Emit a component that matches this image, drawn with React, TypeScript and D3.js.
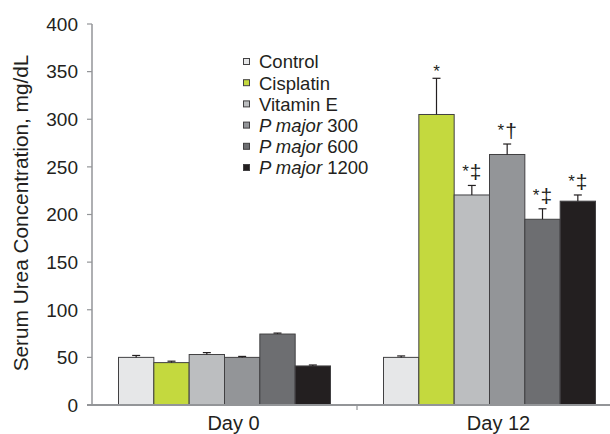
import React from "react";
import * as d3 from "d3";

const groups = ["Day 0", "Day 12"];
const series = ["Control", "Cisplatin", "Vitamin E", "P major 300", "P major 600", "P major 1200"];
const colors = ["#e6e7e8", "#c4d93e", "#bcbec0", "#939598", "#6d6e71", "#231f20"];
const day0Values = [50, 44.5, 53, 50, 74.5, 41];
const day0Errors = [2, 1.5, 2, 1, 1, 1];
const day12Values = [50, 305, 220.5, 263, 195, 214];
const day12Errors = [1.5, 38, 10, 11, 11, 6.5];
const day12Stars = ["", "*", "*", "*", "*", "*"];
const day12Daggers = ["", "", "‡", "†", "‡", "‡"];
const yTicks = [0, 50, 100, 150, 200, 250, 300, 350, 400];

const W = 610;
const H = 434;
const FONT = "'Liberation Sans', Arial, Helvetica, sans-serif";

export default function App() {
  const left = 92;
  const top = 24;
  const bottom = 405;
  const y = d3.scaleLinear().domain([0, 400]).range([bottom, top]);
  const x0 = d3.scaleBand().domain(groups).range([left, left + 530]).padding(0);
  const x1 = d3
    .scaleBand()
    .domain(series)
    .range([0, x0.bandwidth()])
    .paddingInner(0)
    .paddingOuter(0.75);

  const empty = ["", "", "", "", "", ""];
  const data = [
    { g: groups[0], vals: day0Values, errs: day0Errors, stars: empty, daggers: empty },
    { g: groups[1], vals: day12Values, errs: day12Errors, stars: day12Stars, daggers: day12Daggers },
  ];
  const axisColor = "#939598";
  const textColor = "#231f20";

  return (
    <svg
      width={W}
      height={H}
      style={{ position: "absolute", left: 0, top: 0, background: "#fff" }}
      fontFamily={FONT}
    >
      <rect width={W} height={H} fill="#fff" />
      {/* bars */}
      {data.map((d) => (
        <g key={d.g} transform={`translate(${x0(d.g)},0)`}>
          {series.map((s, i) => {
            const bx = x1(s)!;
            const bw = x1.bandwidth();
            const v = d.vals[i];
            const e = d.errs[i];
            const cx = bx + bw / 2;
            const capY = y(v + e);
            const star = d.stars[i];
            const dag = d.daggers[i];
            return (
              <g key={s}>
                <rect
                  x={bx}
                  y={y(v)}
                  width={bw}
                  height={y(0) - y(v)}
                  fill={colors[i]}
                  stroke="#414042"
                  strokeWidth={1}
                />
                <line x1={cx} x2={cx} y1={y(v)} y2={capY} stroke="#231f20" strokeWidth={1.2} />
                <line x1={cx - 4} x2={cx + 4} y1={capY} y2={capY} stroke="#231f20" strokeWidth={1.2} />
                {star && !dag && (
                  <text x={cx} y={capY - 1} textAnchor="middle" fontSize={17} fill={textColor}>
                    {star}
                  </text>
                )}
                {star && dag && (
                  <text x={cx} y={capY - 6} textAnchor="middle" fill={textColor}>
                    <tspan fontSize={17} dy={-2}>{star}</tspan>
                    <tspan fontSize={21} dy={2} dx={1}>{dag}</tspan>
                  </text>
                )}
              </g>
            );
          })}
        </g>
      ))}
      {/* y axis */}
      <line x1={left} x2={left} y1={top} y2={bottom} stroke={axisColor} strokeWidth={1.5} />
      {yTicks.map((t) => (
        <g key={t}>
          <line x1={left - 5} x2={left} y1={y(t)} y2={y(t)} stroke={axisColor} strokeWidth={1.2} />
          <text
            x={left - 14}
            y={y(t)}
            dy="0.36em"
            textAnchor="end"
            fontSize={19}
            fill={textColor}
          >
            {t}
          </text>
        </g>
      ))}
      {/* x axis */}
      <line x1={left - 5} x2={W} y1={bottom} y2={bottom} stroke={axisColor} strokeWidth={2} />
      <line
        x1={x0(groups[1])!}
        x2={x0(groups[1])!}
        y1={bottom}
        y2={bottom + 5}
        stroke={axisColor}
        strokeWidth={1.2}
      />
      {groups.map((g) => (
        <text
          key={g}
          x={x0(g)! + x0.bandwidth() / 2 + 9}
          y={bottom + 25}
          textAnchor="middle"
          fontSize={20}
          fill={textColor}
        >
          {g}
        </text>
      ))}
      {/* y label */}
      <text
        transform={`translate(28,213) rotate(-90)`}
        textAnchor="middle"
        fontSize={20.8}
        fill={textColor}
      >
        Serum Urea Concentration, mg/dL
      </text>
      {/* legend */}
      {series.map((s, i) => {
        const ly = 62 + i * 21.2;
        const isP = s.startsWith("P major");
        return (
          <g key={s}>
            <rect x={243.5} y={ly - 3.5} width={6} height={6} fill={colors[i]} stroke="#414042" strokeWidth={1} />
            <text x={259} y={ly} dy="0.35em" fontSize={18.5} fill={textColor}>
              {isP ? (
                <>
                  <tspan fontStyle="italic">P major</tspan>
                  <tspan>{s.slice(7)}</tspan>
                </>
              ) : (
                s
              )}
            </text>
          </g>
        );
      })}
    </svg>
  );
}
